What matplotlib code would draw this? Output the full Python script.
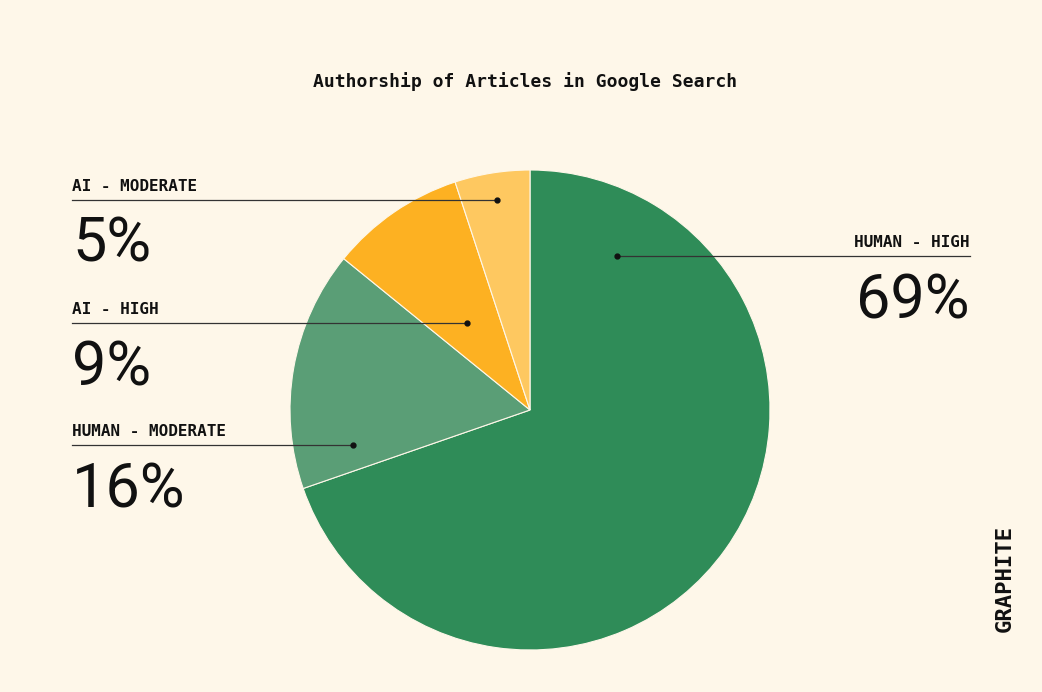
import matplotlib
matplotlib.use("Agg")
import matplotlib.pyplot as plt
from matplotlib.lines import Line2D

categories = ["HUMAN - HIGH", "HUMAN - MODERATE", "AI - HIGH", "AI - MODERATE"]
values = [69, 16, 9, 5]
colors = ["#2F8C58", "#5A9E76", "#FDB122", "#FEC860"]
bg = "#FEF7E9"

W, H = 1042, 692
fig = plt.figure(figsize=(W/100, H/100), dpi=100, facecolor=bg)
cx, cy, r = 530, 410, 240
ax = fig.add_axes([(cx-r)/W, 1-(cy+r)/H, 2*r/W, 2*r/H])
ax.pie(values, colors=colors, startangle=90, counterclock=False,
       wedgeprops=dict(linewidth=0.8, edgecolor=bg))
ax.set_aspect("equal")
ax.set_xlim(-1, 1); ax.set_ylim(-1, 1)
ax.axis("off")

def fx(x): return x/W
def fy(y): return 1-y/H

fig.text(fx(525), fy(82), "Authorship of Articles in Google Search", ha="center", va="center",
         family="DejaVu Sans Mono", fontsize=13, fontweight="bold", color="#111")

specs = [(3, 200, 72, 497, 497, "left"),
         (2, 323, 72, 467, 467, "left"),
         (1, 445, 72, 353, 353, "left"),
         (0, 256, 617, 970, 617, "right")]
for i, ly, x0, x1, dx, al in specs:
    fig.add_artist(Line2D([fx(x0), fx(x1)], [fy(ly), fy(ly)], color="#333", lw=0.9))
    fig.add_artist(Line2D([fx(dx)], [fy(ly)], marker="o", ms=3.5, color="#111"))
    tx = x0 if al == "left" else x1
    fig.text(fx(tx), fy(ly-6), categories[i], ha=al, va="bottom",
             family="DejaVu Sans Mono", fontsize=11.5, fontweight="bold", color="#111")
    fig.text(fx(tx), fy(ly+62), f"{values[i]}%", ha=al, va="baseline",
             family="Roboto", fontsize=44, color="#111")

fig.text(fx(1005), fy(578), "GRAPHITE", rotation=90, ha="center", va="center",
         family="DejaVu Sans Mono", fontsize=16, fontweight="bold", color="#111")

fig.savefig("out.png", dpi=100, facecolor=bg)
